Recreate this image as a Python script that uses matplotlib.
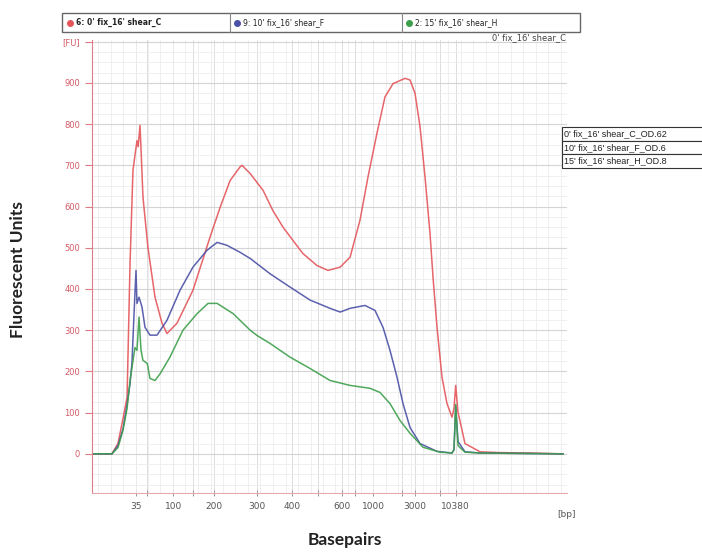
import numpy as np
import matplotlib
matplotlib.use("Agg")
from matplotlib import pyplot as plt
from matplotlib.patches import Rectangle
from matplotlib.lines import Line2D

# ---- data (bp, FU) ----
red_bp = [8.7, 16.4, 19.8, 23.2, 26.4, 29, 31.8, 36.1, 37.5, 39.7, 41, 43.6, 50.9, 61.4,
          74, 84.5, 107.8, 149, 189, 212, 233, 256, 261, 282, 316, 342, 371, 402, 438,
          494, 539, 593, 661, 772, 902, 1094, 1330, 1617, 2212, 2576, 3000, 3555, 4211,
          4990, 5521, 6325, 7360, 8344, 9460, 9940, 10380, 11000, 11560, 13100, 19100,
          31600, 67100, 153700]
red_fu = [0, 0, 25, 85, 137, 462, 688, 760, 745, 797, 740, 623, 500, 380,
          317, 292, 317, 397, 525, 598, 663, 696, 700, 680, 639, 590, 550, 518, 486,
          457, 445, 453, 477, 567, 672, 778, 866, 898, 911, 907, 875, 794, 672,
          535, 429, 307, 186, 122, 89, 110, 166, 100, 80, 25, 5,
          3, 2, 0]

blue_bp = [8.7, 16.4, 19.8, 23.2, 26.4, 29, 30.8, 32.9, 35, 36.1, 38.5, 42.3, 46.5, 53.7,
           64.8, 84.5, 114.6, 149, 181.6, 206, 226, 256, 282, 334, 392, 466, 548, 593,
           661, 851, 1042, 1267, 1503, 1783, 2081, 2576, 3555, 6325, 9460, 9940, 10380,
           11000, 13100, 19100, 153700]
blue_fu = [0, 0, 20, 60, 120, 170, 220, 340, 445, 365, 380, 356, 307, 288,
           288, 324, 397, 453, 494, 513, 506, 489, 474, 437, 405, 373, 353, 344,
           353, 360, 348, 307, 251, 186, 122, 64, 25, 6, 2, 10, 115,
           30, 5, 2, 0]

green_bp = [8.7, 16.4, 19.8, 23.2, 26.4, 29, 33.9, 36.1, 38.5, 41, 43.6, 50, 53.7, 61.4,
            70.2, 91.6, 121.7, 158, 184, 206, 240, 282, 301, 334, 392, 466, 548, 661,
            938, 1177, 1503, 1918, 2576, 3934, 7000, 9460, 9940, 10380, 11000, 13100,
            19100, 153700]
green_fu = [0, 0, 15, 57, 110, 178, 258, 251, 332, 251, 227, 219, 183, 178,
            194, 235, 300, 340, 365, 365, 340, 300, 287, 268, 235, 207, 178, 166,
            159, 149, 122, 81, 50, 16, 4, 2, 10, 120, 20, 4,
            2, 0]

ladder_bp = [35, 50, 100, 150, 200, 300, 400, 500, 600, 700, 1000, 2000, 3000, 7000, 10380]
labelled_bp = [35, 100, 200, 300, 400, 600, 1000, 3000, 10380]

header_names = ["6: 0' fix_16' shear_C", "9: 10' fix_16' shear_F", "2: 15' fix_16' shear_H"]
legend_names = ["0' fix_16' shear_C_OD.62", "10' fix_16' shear_F_OD.6", "15' fix_16' shear_H_OD.8"]
colors = ["#e4555a", "#4a50a6", "#3d9f4b"]

# ---- bp -> position scale (ladder calibration, like the instrument) ----
ladder_pos = np.array([136, 147.3, 173.3, 193.3, 214, 256.7, 292.3, 318.3, 341.7,
                       355, 373.3, 401.7, 415, 440, 455.7])
ln_ladder = np.log(ladder_bp)


def forward(bp):
    lb = np.log(np.clip(bp, 1e-3, None))
    pos = np.interp(lb, ln_ladder, ladder_pos)
    pos = np.where(lb < ln_ladder[0], ladder_pos[0] + (lb - ln_ladder[0]) * 31.7, pos)
    pos = np.where(lb > ln_ladder[-1], ladder_pos[-1] + (lb - ln_ladder[-1]) * 39.8, pos)
    return pos


def inverse(pos):
    pos = np.asarray(pos, dtype=float)
    lb = np.interp(pos, ladder_pos, ln_ladder)
    lb = np.where(pos < ladder_pos[0], ln_ladder[0] + (pos - ladder_pos[0]) / 31.7, lb)
    lb = np.where(pos > ladder_pos[-1], ln_ladder[-1] + (pos - ladder_pos[-1]) / 39.8, lb)
    return np.exp(lb)


W, H = 702, 554
fig = plt.figure(figsize=(W / 100, H / 100), dpi=100)


def fx(px):
    return px / W


def fy(py):
    return 1 - py / H


ax = fig.add_axes([fx(92), fy(493), fx(567) - fx(92), fy(40) - fy(493)])
ax.set_xscale("function", functions=(forward, inverse))
ax.set_xlim(float(inverse(92)), float(inverse(567)))
ax.set_ylim(-95, 1004)

# grid
ax.set_yticks(list(range(0, 1000, 100)) + [1000])
ax.set_yticklabels([str(v) for v in range(0, 1000, 100)] + ["[FU]"])
ax.set_yticks(np.arange(-75, 1000, 25), minor=True)
ax.set_xticks(ladder_bp)
ax.set_xticklabels([str(b) if b in labelled_bp else "" for b in ladder_bp])
ax.set_xticks(inverse(np.arange(98, 567, 12.5)), minor=True)
ax.grid(which="major", axis="y", color="#d4d4d4", lw=0.8)
ax.grid(which="major", axis="x", color="#dddddd", lw=0.7)
ax.grid(which="minor", color="#ececec", lw=0.6)
ax.set_axisbelow(True)

for xs, ys, c in zip([red_bp, blue_bp, green_bp], [red_fu, blue_fu, green_fu], colors):
    ax.plot(xs, ys, color=c, lw=1.1, alpha=0.9)

for s in ["top", "right"]:
    ax.spines[s].set_visible(False)
ax.spines["left"].set_color("#e07c88")
ax.spines["bottom"].set_color("#e8a8b0")
ax.tick_params(axis="y", which="major", colors="#e07c88", labelcolor="#d45a66",
               labelsize=6, length=5, width=0.8)
ax.tick_params(axis="y", which="minor", length=0)
ax.tick_params(axis="x", which="major", direction="inout", colors="#999999",
               labelcolor="#555555", labelsize=6.5, length=5, width=0.7, pad=4)
ax.tick_params(axis="x", which="minor", length=0)
ax.text(1.0, -0.038, "[bp]", transform=ax.transAxes, fontsize=6.5, color="#555555",
        ha="center", va="top")

# header strip
fig.add_artist(Rectangle((fx(62), fy(32)), fx(580) - fx(62), fy(13) - fy(32),
                         transform=fig.transFigure, facecolor="white",
                         edgecolor="#666666", lw=1.0))
for xdiv in [230, 402]:
    fig.add_artist(Line2D([fx(xdiv), fx(xdiv)], [fy(13), fy(32)],
                          transform=fig.transFigure, color="#888888", lw=0.8))
for x0, name, c, bold in zip([70, 237, 409], header_names, colors, [True, False, False]):
    fig.add_artist(Line2D([fx(x0)], [fy(22.5)], transform=fig.transFigure, marker="o",
                          markersize=4, color=c, lw=0))
    fig.text(fx(x0 + 6), fy(22.5), name, fontsize=5.5, va="center", ha="left",
             fontweight="bold" if bold else "normal", color="#222222")
fig.text(fx(566), fy(38), "0' fix_16' shear_C", fontsize=6, ha="right", va="center",
         color="#444444")

# right-hand legend boxes
row_h = 13.5
for i, name in enumerate(legend_names):
    top = 127 + i * row_h
    fig.add_artist(Rectangle((fx(562), fy(top + row_h)), fx(720) - fx(562), row_h / H,
                             transform=fig.transFigure, facecolor="white",
                             edgecolor="#333333", lw=0.8, clip_on=False))
    fig.text(fx(564), fy(top + row_h / 2), name, fontsize=6.5, va="center", ha="left",
             color="#222222", family="Liberation Sans")

fig.text(fx(18), fy(270), "Fluorescent Units", rotation=90, fontsize=12.5,
         fontweight="bold", family="Lato", ha="center", va="center", color="#222222")
fig.text(fx(345), fy(540), "Basepairs", fontsize=12.5, fontweight="bold", family="Lato",
         ha="center", va="center", color="#222222")

fig.savefig("out.png", dpi=100)
